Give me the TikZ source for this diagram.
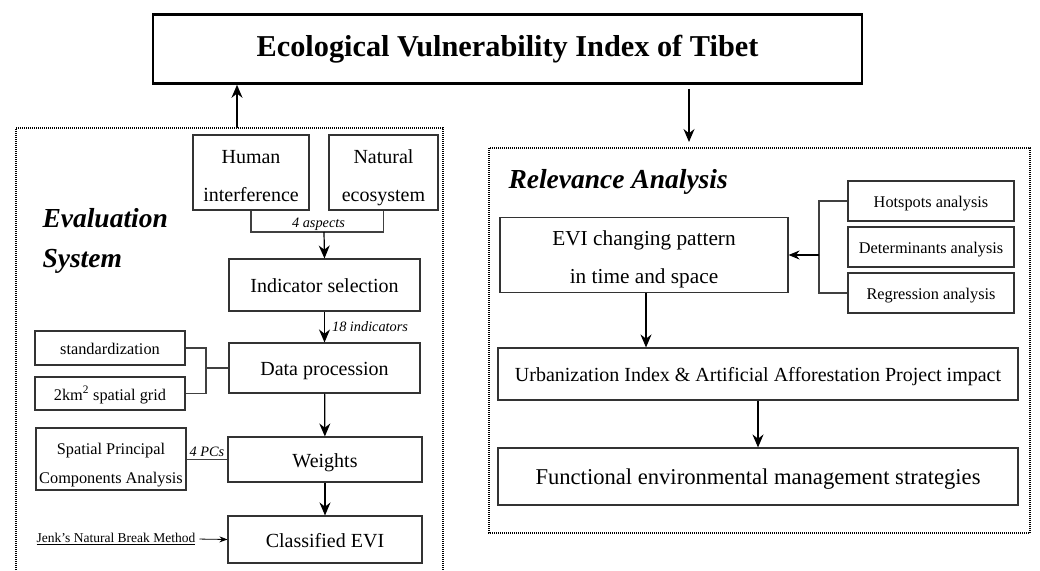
\documentclass[tikz,border=0pt]{standalone}
\usepackage{fontspec}
\setmainfont{Liberation Serif}
\usepackage{tikz}
\usetikzlibrary{arrows.meta}

\newcommand{\fs}[2]{\fontsize{#1}{#2}\selectfont}
\newcommand{\dropline}[1]{\rule{0pt}{#1}}
\newcommand{\deepline}{\rule[-6pt]{0pt}{6pt}}

\begin{document}
\begin{tikzpicture}[x=1pt, y=-1pt,
    box/.style={draw=black!80, line width=1.1pt, inner sep=0pt, align=center},
    step box/.style={box, font=\fs{20}{24}, text height=15pt, text depth=0pt},
    small/.style={box, font=\fs{16.3}{29}},
    small one/.style={small, text height=13.5pt, text depth=0pt},
    arr/.style={-{Stealth[length=13pt, width=11pt]}, line width=1.2pt},
    link/.style={draw=black!75, line width=1.1pt},
    lbl/.style={font=\fs{14.3}{16}\itshape, inner sep=1pt},
    area/.style={line width=1.1pt, dash pattern=on 1pt off 1pt}]
  \useasboundingbox (0,0) rectangle (1040,570);

  % Title
  \node[draw, line width=2.6pt, minimum width=709pt, minimum height=69pt,
        font=\fs{30.3}{32}\bfseries] (title) at (507.5,49)
        {Ecological Vulnerability Index of Tibet};

  % Dotted frames
  \draw[area] (16,570) -- (16,128) -- (443,128) -- (443,570);
  \draw[area] (489,148) rectangle (1030,533);
  \coordinate (evaltop) at (237,128);
  \coordinate (reltop) at (689,147);

  \node[anchor=west, align=left, font=\fs{27.5}{40}\bfseries\itshape] (evalsys)
        at (39,241) {Evaluation\\System};
  \node[anchor=west, font=\fs{27.5}{30}\bfseries\itshape] (relana)
        at (505,182) {Relevance Analysis};

  % Evaluation system
  \node[box, minimum width=116pt, minimum height=75pt, font=\fs{20}{38}]
        (human) at (251,172.5) {\dropline{26pt}Human\\interference\deepline};
  \node[box, minimum width=109pt, minimum height=75pt, font=\fs{20}{38}]
        (natural) at (383.5,172.5) {\dropline{26pt}Natural\\ecosystem\deepline};
  \node[step box, minimum width=191pt, minimum height=52pt]
        (indsel) at (324.5,285) {Indicator selection};
  \node[step box, minimum width=191pt, minimum height=50pt]
        (dataproc) at (324.5,368) {Data procession};
  \node[step box, minimum width=194pt, minimum height=45pt]
        (weights) at (325,459.5) {Weights};
  \node[step box, minimum width=194pt, minimum height=47pt]
        (classevi) at (325,539.5) {Classified EVI};

  \node[small one, minimum width=150pt, minimum height=34pt] (stand) at (110,348)
        {standardization};
  \node[small one, minimum width=150pt, minimum height=33pt] (grid) at (110,393.5)
        {2km\textsuperscript{2} spatial grid};
  \node[small, minimum width=150pt, minimum height=62pt] (spca) at (111,459)
        {\dropline{23pt}Spatial Principal\\Components Analysis};
  \node[font=\fs{13.5}{16}, inner sep=1pt] (jenks) at (116,539)
        {\underline{Jenk's Natural Break Method}};

  \coordinate (join) at (324,232);
  \coordinate (brk) at (206,368);
  \draw[link] (human.south) |- (join) -| (natural.south);
  \node[lbl] (aspects) at (318.5,224) {4 aspects};
  \draw[arr] (join) -- (indsel.north);
  \draw[arr] (indsel) -- (dataproc) node[lbl, midway, right=6pt] (nind) {18 indicators};
  \draw[link] (stand.east) -| (brk) |- (grid.east);
  \draw[link] (brk) -- (dataproc.west);
  \draw[arr] (dataproc) -- (weights);
  \draw[link] (spca.east |- weights.west) -- (weights.west)
        node[lbl, pos=0.5, above=1pt] (pcs) {4 PCs};
  \draw[arr] (weights) -- (classevi);
  \draw[-{Stealth[length=8pt, width=6pt]}, line width=0.8pt, shorten <=3pt]
        (jenks.east) -- (classevi.west);
  \draw[arr] (evaltop) -- (evaltop |- title.south);

  % Relevance analysis
  \node[box, minimum width=288pt, minimum height=75pt, font=\fs{21.3}{38}]
        (evi) at (644,255) {\dropline{23pt}EVI changing pattern\\in time and space};
  \node[small one, minimum width=166pt, minimum height=40pt] (hot) at (931,201)
        {Hotspots analysis};
  \node[small one, minimum width=166pt, minimum height=40pt] (det) at (931,247)
        {Determinants analysis};
  \node[small one, minimum width=166pt, minimum height=40pt] (reg) at (931,293)
        {Regression analysis};
  \node[box, minimum width=520pt, minimum height=52pt, font=\fs{20}{24},
        text height=15pt, text depth=0pt]
        (urban) at (758,374) {Urbanization Index \& Artificial Afforestation Project impact};
  \node[box, minimum width=520pt, minimum height=57pt, font=\fs{22.6}{24},
        text height=16pt, text depth=0pt]
        (func) at (758,476.5) {Functional environmental management strategies};

  \coordinate (rb) at (819,255);
  \draw[link] (hot.west) -| (rb) |- (reg.west);
  \draw[-{Stealth[length=11pt, width=9pt]}, line width=1.1pt] (rb) -- (evi.east);
  \draw[arr] (evi.south -| 646,0) -- (urban.north -| 646,0);
  \draw[arr] (urban) -- (func);
  \draw[arr, shorten <=4pt, shorten >=5pt] (title.south -| reltop) -- (reltop);
\end{tikzpicture}
\end{document}
